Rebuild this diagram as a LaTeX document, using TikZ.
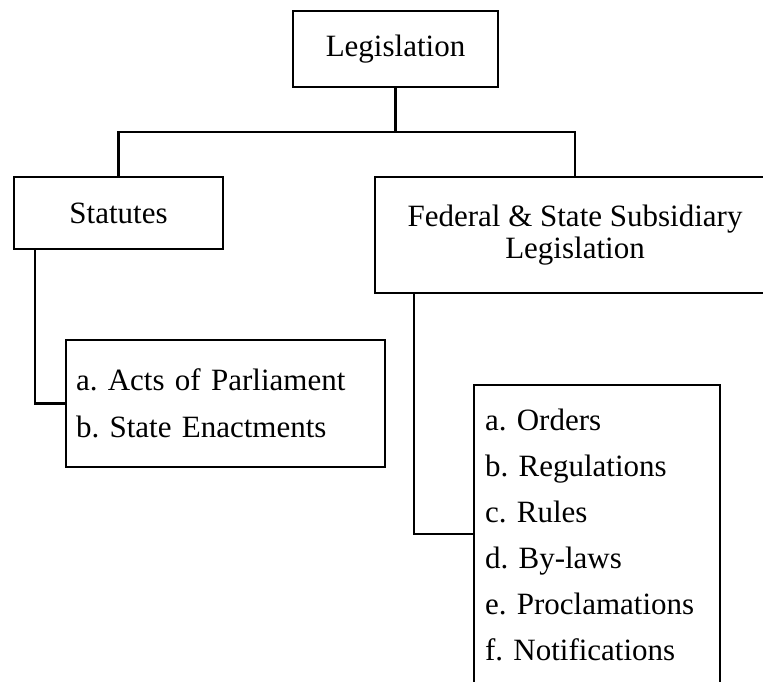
\documentclass[tikz,border=0pt]{standalone}
\usepackage{fontspec}
\setmainfont{Liberation Serif}
\frenchspacing
\begin{document}
\begin{tikzpicture}[x=1pt,y=-1pt,
  box/.style={draw,line width=2.7pt,rectangle,inner sep=0pt,outer sep=0pt,
              font=\fontsize{31}{32}\selectfont\frenchspacing,align=center},
  listbox/.style={box,anchor=north west,align=left},
  link/.style={line width=2.7pt}]
\useasboundingbox (0,0) rectangle (763,682);
\clip (0,0) rectangle (763,682);

% top level
\node[box,minimum width=205pt,minimum height=76pt] (leg) at (395.5,49) {Legislation};

% second level
\node[box,minimum width=209pt,minimum height=72pt] (stat) at (118.5,213) {Statutes};
\node[box,minimum width=400pt,minimum height=116pt] (fed) at (575,235)
  {Federal \& State Subsidiary\\Legislation};

% item lists
\node[listbox,text width=299pt,inner xsep=10pt,minimum height=127pt,
      font=\fontsize{31}{47}\selectfont\frenchspacing] (acts) at (66,340)
  {a. Acts of Parliament\\b. State Enactments};
\node[listbox,text width=224pt,inner xsep=11pt,inner ysep=24pt,
      font=\fontsize{31}{46}\selectfont\frenchspacing] (ord) at (474,385)
  {a. Orders\\b. Regulations\\c. Rules\\d. By-laws\\e. Proclamations\\f. Notifications};

% connectors
\coordinate (bus) at (0,132);
\draw[link] (leg.south) -- (leg.south |- bus);
\draw[link] (stat.north) -- (stat.north |- bus) -- (fed.north |- bus) -- (fed.north);

\coordinate (statdrop) at ([xshift=21pt]stat.south west);
\draw[link] (statdrop) |- (acts.west);

\coordinate (feddrop) at ([xshift=39pt]fed.south west);
\coordinate (joinlevel) at (0,534);
\coordinate (ordjoin) at (ord.west |- joinlevel);
\draw[link] (feddrop) |- (ordjoin);
\end{tikzpicture}
\end{document}
